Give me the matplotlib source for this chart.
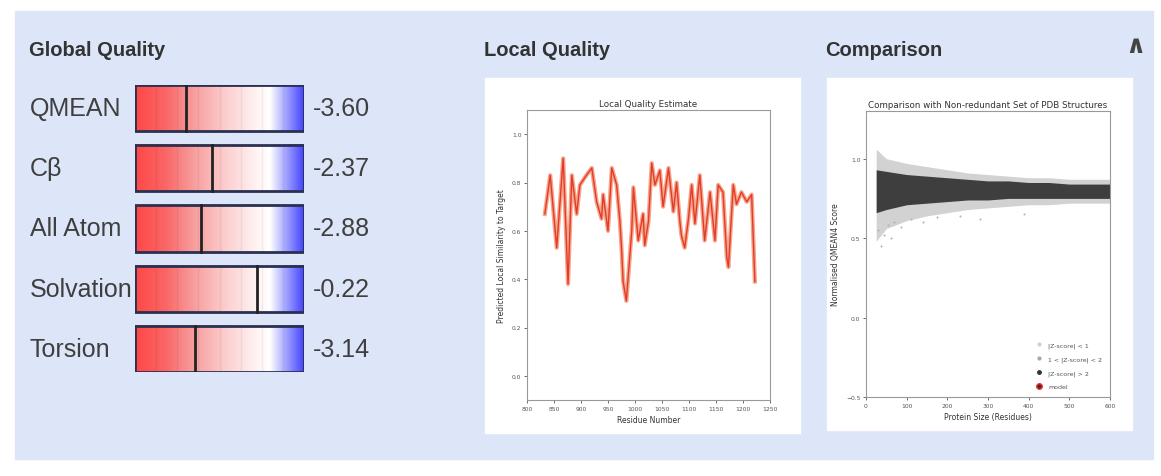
import numpy as np
import matplotlib
matplotlib.use('Agg')
import matplotlib.pyplot as plt
from matplotlib.patches import Rectangle
from matplotlib.colors import LinearSegmentedColormap
from matplotlib.lines import Line2D
from matplotlib.transforms import blended_transform_factory

# ---------------- data ----------------
score_names = ["QMEAN", "C\u03b2", "All Atom", "Solvation", "Torsion"]
score_values = [-3.60, -2.37, -2.88, -0.22, -3.14]
score_range = (-6, 2)

residues = [833, 843, 855, 867, 876, 883, 892, 898, 910, 920, 929, 938, 941, 950,
            957, 966, 972, 975, 978, 984, 994, 997, 1006, 1015, 1018, 1025, 1031,
            1037, 1046, 1052, 1062, 1071, 1077, 1083, 1086, 1092, 1099, 1105, 1111,
            1120, 1129, 1139, 1148, 1154, 1163, 1170, 1173, 1182, 1188, 1197, 1207,
            1216, 1222]
local_scores = [0.67, 0.83, 0.53, 0.90, 0.38, 0.83, 0.67, 0.79, 0.83, 0.86, 0.72,
                0.65, 0.75, 0.60, 0.86, 0.79, 0.64, 0.53, 0.39, 0.31, 0.60, 0.78,
                0.56, 0.67, 0.54, 0.64, 0.88, 0.79, 0.85, 0.70, 0.86, 0.68, 0.80,
                0.64, 0.58, 0.53, 0.65, 0.79, 0.63, 0.83, 0.56, 0.76, 0.56, 0.79,
                0.76, 0.49, 0.45, 0.79, 0.71, 0.76, 0.72, 0.75, 0.39]
local_xticks = [800, 850, 900, 950, 1000, 1050, 1100, 1150, 1200, 1250]
local_yticks = [0.0, 0.2, 0.4, 0.6, 0.8, 1.0]

cmp_size = [25, 50, 100, 150, 200, 250, 300, 350, 400, 450, 500, 550, 600]
cmp_core_hi = [0.93, 0.92, 0.90, 0.89, 0.88, 0.87, 0.86, 0.86, 0.85, 0.85, 0.84, 0.84, 0.84]
cmp_core_lo = [0.66, 0.68, 0.71, 0.72, 0.73, 0.74, 0.74, 0.75, 0.75, 0.75, 0.75, 0.75, 0.75]
cmp_outer_hi = [1.06, 1.00, 0.97, 0.95, 0.93, 0.91, 0.90, 0.89, 0.88, 0.88, 0.87, 0.87, 0.87]
cmp_outer_lo = [0.48, 0.56, 0.61, 0.64, 0.66, 0.68, 0.69, 0.70, 0.71, 0.71, 0.72, 0.72, 0.72]
outlier_size = [30, 38, 45, 55, 62, 70, 85, 110, 140, 175, 230, 280, 389]
outlier_score = [0.55, 0.45, 0.52, 0.58, 0.50, 0.60, 0.57, 0.62, 0.60, 0.63, 0.64, 0.62, 0.65]
cmp_xticks = [0, 100, 200, 300, 400, 500, 600]
cmp_yticks = [-0.5, 0.0, 0.5, 1.0]
legend_labels = ["|Z-score| < 1", "1 < |Z-score| < 2", "|Z-score| > 2", "model"]

# ---------------- figure ----------------
W, H = 1161, 477
SANS = ['Liberation Sans', 'DejaVu Sans']
fig = plt.figure(figsize=(W / 100, H / 100), dpi=100)
fig.patch.set_facecolor('white')

bg = fig.add_axes([0, 0, 1, 1])
bg.set_xlim(0, W)
bg.set_ylim(H, 0)
bg.axis('off')
bg.add_patch(Rectangle((15, 12), 1138, 448, color='#dde6f8', zorder=0))
bg.add_patch(Rectangle((485, 79), 315, 355, color='white', zorder=1))
bg.add_patch(Rectangle((827, 79), 305, 352, color='white', zorder=1))

hdr = dict(family=SANS, fontsize=14.5, fontweight='bold', color='#333333', va='center', ha='left')
bg.text(29, 50, "Global Quality", **hdr)
bg.text(484, 50, "Local Quality", **hdr)
bg.text(825, 50, "Comparison", **hdr)
bg.text(1135, 46, "\u2227", fontsize=18, fontweight='bold', color='#444444', ha='center', va='center')


def ax_px(l, t, r, b):
    return fig.add_axes([l / W, 1 - b / H, (r - l) / W, (b - t) / H])


# ---------------- global quality bars ----------------
axb = ax_px(135, 86, 304, 373)
h = 46 / 60
axb.set_xlim(*score_range)
axb.set_ylim(len(score_names) - 1 + h / 2, -h / 2)
axb.axis('off')
cmap = LinearSegmentedColormap.from_list('qm', [
    (0.0, (1.0, 0.28, 0.28)),
    (0.18, (0.98, 0.40, 0.40)),
    (0.35, (0.97, 0.62, 0.62)),
    (0.55, (0.99, 0.82, 0.82)),
    (0.72, (1.0, 0.95, 0.95)),
    (0.80, (1.0, 1.0, 1.0)),
    (0.90, (0.62, 0.62, 1.0)),
    (1.0, (0.27, 0.27, 1.0))])
grad = np.linspace(0, 1, 256).reshape(1, -1)
lab_tr = blended_transform_factory(fig.transFigure, axb.transData)
for i, (name, v) in enumerate(zip(score_names, score_values)):
    axb.imshow(grad, cmap=cmap, aspect='auto',
               extent=(score_range[0], score_range[1], i + h / 2, i - h / 2), zorder=1)
    for u in range(score_range[0] + 1, score_range[1]):
        axb.plot([u, u], [i - h / 2, i + h / 2], color='#000000', alpha=0.05, lw=1, zorder=2)
    axb.add_patch(Rectangle((score_range[0], i - h / 2), score_range[1] - score_range[0], h,
                            fill=False, edgecolor='#2a3050', lw=2, zorder=3))
    axb.plot([v, v], [i - h / 2, i + h / 2], color='#222222', lw=2, zorder=4)
    axb.text(30 / W, i, name, transform=lab_tr, family=SANS, fontsize=18,
             color='#3f3f3f', ha='left', va='center')
    axb.text(313 / W, i, f"{v:.2f}", transform=lab_tr, family=SANS, fontsize=18,
             color='#3f3f3f', ha='left', va='center')

# ---------------- local quality ----------------
axl = ax_px(527, 111, 770, 401)
axl.plot(residues, local_scores, color='#f7a58a', lw=3.0)
axl.plot(residues, local_scores, color='#e23b2a', lw=1.0)
axl.set_xlim(800, 1250)
axl.set_ylim(-0.1, 1.1)
axl.set_xticks(local_xticks)
axl.set_yticks(local_yticks)
axl.tick_params(labelsize=4.3, length=2, width=0.6, colors='#555555', pad=2)
axl.set_title("Local Quality Estimate", fontsize=6.3, color='#333333', pad=3)
axl.set_xlabel("Residue Number", fontsize=5.5, color='#333333', labelpad=3)
axl.set_ylabel("Predicted Local Similarity to Target", fontsize=5.5, color='#333333', labelpad=4)
for s in axl.spines.values():
    s.set_color('#999999')
    s.set_linewidth(0.8)

# ---------------- comparison ----------------
axc = ax_px(866, 112, 1110, 398)
axc.fill_between(cmp_size, cmp_outer_lo, cmp_outer_hi, color='#b4b4b4', alpha=0.6, lw=0)
axc.fill_between(cmp_size, cmp_core_lo, cmp_core_hi, color='#2e2e2e', alpha=0.9, lw=0)
axc.scatter(outlier_size, outlier_score, s=2, color='#b0b0b0', lw=0)
axc.set_xlim(0, 600)
axc.set_ylim(-0.5, 1.3)
axc.set_xticks(cmp_xticks)
axc.set_yticks(cmp_yticks)
axc.tick_params(labelsize=4.3, length=2, width=0.6, colors='#555555', pad=2)
axc.set_title("Comparison with Non-redundant Set of PDB Structures", fontsize=6.3,
              color='#333333', pad=3)
axc.set_xlabel("Protein Size (Residues)", fontsize=5.5, color='#333333', labelpad=3)
axc.set_ylabel("Normalised QMEAN4 Score", fontsize=5.5, color='#333333', labelpad=4)
for s in axc.spines.values():
    s.set_color('#999999')
    s.set_linewidth(0.8)
handles = [
    Line2D([], [], ls='none', marker='o', ms=2, color='#d0d0d0'),
    Line2D([], [], ls='none', marker='o', ms=2, color='#a8a8a8'),
    Line2D([], [], ls='none', marker='o', ms=2.5, color='#333333'),
    Line2D([], [], ls='none', marker='o', ms=4, markerfacecolor='#552222', markeredgecolor='#ee3333'),
]
leg = axc.legend(handles, legend_labels, loc='lower right', frameon=False, fontsize=4.5,
                 handletextpad=0.6, labelspacing=1.3, borderaxespad=0.8)
for t in leg.get_texts():
    t.set_color('#555555')

fig.savefig('out.png', dpi=100)
